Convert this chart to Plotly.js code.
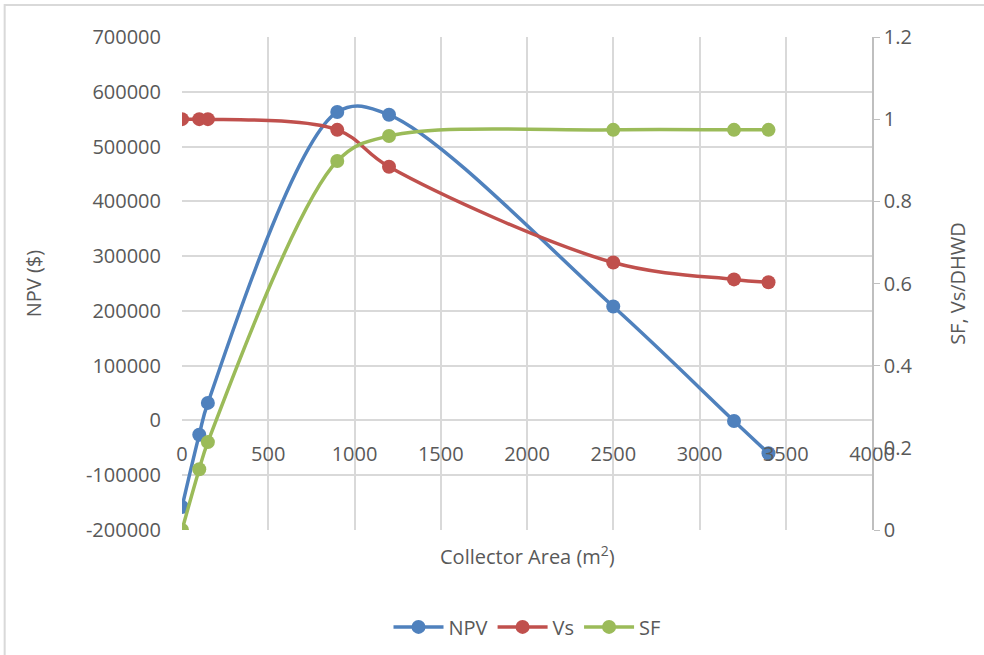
<!DOCTYPE html>
<html>
<head>
<meta charset="utf-8">
<script src="https://cdn.plot.ly/plotly-3.0.1.min.js"></script>
<style>html,body{margin:0;padding:0;background:#fff;}#chart{width:984px;height:655px;}</style>
</head>
<body>
<div id="chart"></div>
<script>
const area = [0, 100, 150, 900, 1200, 2500, 3200, 3400];
const npv = [-158000, -26000, 32000, 563000, 558000, 208000, -1000, -60000];
const vs = [1.0, 1.0, 1.0, 0.974, 0.884, 0.651, 0.610, 0.603];
const sf = [0.0, 0.148, 0.214, 0.898, 0.959, 0.974, 0.974, 0.974];
const xTicks = [0, 500, 1000, 1500, 2000, 2500, 3000, 3500, 4000];
const yTicks = [-200000, -100000, 0, 100000, 200000, 300000, 400000, 500000, 600000, 700000];
const y2Ticks = [0, 0.2, 0.4, 0.6, 0.8, 1, 1.2];

const FONT = "Open Sans, Noto Sans, sans-serif";
const GRAY = "#595959";
const GRID = "#d9d9d9";

function trace(name, y, color, yaxis) {
  return {
    x: area, y: y, name: name, type: "scatter", mode: "lines+markers",
    yaxis: yaxis,
    line: {color: color, width: 3.5, shape: "spline", smoothing: 1},
    marker: {color: color, size: 14}
  };
}

const data = [
  trace("NPV", npv, "#4F81BD", "y"),
  trace("Vs", vs, "#C0504D", "y2"),
  trace("SF", sf, "#9BBB59", "y2")
];

const layout = {
  width: 984, height: 655,
  paper_bgcolor: "#ffffff", plot_bgcolor: "#ffffff",
  font: {family: FONT, size: 20, color: GRAY},
  margin: {l: 182, r: 112, t: 37, b: 125, autoexpand: false},
  showlegend: true,
  legend: {orientation: "h", x: 0.5, xanchor: "center", y: -0.157, yanchor: "top",
           font: {size: 20, color: GRAY}, itemwidth: 50, traceorder: "normal"},
  xaxis: {
    range: [0, 4000], tickvals: xTicks, ticktext: xTicks.map(String),
    showgrid: true, gridcolor: GRID, gridwidth: 1.5,
    zeroline: false, showline: false, ticks: "",
    anchor: "free", position: 200000 / 900000,
    ticklabelstandoff: 20,
    tickfont: {size: 20, color: GRAY}
  },
  yaxis: {
    range: [-200000, 700000], tickvals: yTicks, ticktext: yTicks.map(String),
    showgrid: true, gridcolor: GRID, gridwidth: 1.5,
    zeroline: false, showline: false, ticks: "",
    ticklabelstandoff: 20,
    title: {text: "NPV ($)", font: {size: 20, color: GRAY}, standoff: 38}
  },
  yaxis2: {
    range: [0, 1.2], overlaying: "y", side: "right",
    showgrid: false, zeroline: false, showline: true, linecolor: "#bfbfbf", linewidth: 1.5,
    ticks: "outside", ticklen: 6, tickcolor: "#bfbfbf",
    tickvals: y2Ticks, ticktext: y2Ticks.map(String),
    title: {text: "SF, Vs/DHWD", font: {size: 20, color: GRAY}, standoff: 40}
  },
  annotations: [{
    text: "Collector Area (m<sup>2</sup>)", xref: "paper", yref: "paper",
    x: 0.5, y: 0, yshift: -25, xanchor: "center", yanchor: "middle",
    showarrow: false, font: {size: 20, color: GRAY}
  }],
  shapes: [{
    type: "rect", xref: "paper", yref: "paper",
    x0: -0.257, x1: 1.4, y0: -0.5, y1: 1.065,
    line: {color: "#d9d9d9", width: 2}, fillcolor: "rgba(0,0,0,0)", layer: "below"
  }]
};

Plotly.newPlot("chart", data, layout, {displayModeBar: false});
</script>
</body>
</html>
